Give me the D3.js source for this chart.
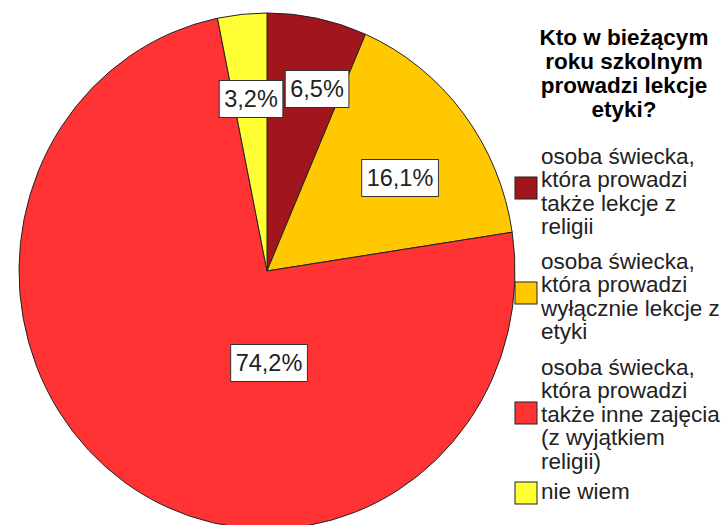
<!DOCTYPE html>
<html>
<head>
<meta charset="utf-8">
<script src="https://cdn.jsdelivr.net/npm/d3@7"></script>
<style>
  html, body { margin: 0; padding: 0; background: #fff; }
  svg { display: block; }
</style>
</head>
<body>
<svg id="chart" width="728" height="525"></svg>
<script>
// ---- data ----
const categories = [
  ["osoba świecka,", "która prowadzi", "także lekcje z", "religii"],
  ["osoba świecka,", "która prowadzi", "wyłącznie lekcje z", "etyki"],
  ["osoba świecka,", "która prowadzi", "także inne zajęcia", "(z wyjątkiem", "religii)"],
  ["nie wiem"]
];
const values = [6.5, 16.1, 74.2, 3.2];
const valueLabels = ["6,5%", "16,1%", "74,2%", "3,2%"];
const titleLines = ["Kto w bieżącym", "roku szkolnym", "prowadzi lekcje", "etyki?"];
const colors = ["#a0161c", "#ffc800", "#ff3333", "#ffff33"];

// ---- layout ----
const W = 728, H = 525;
const cx = 267, cy = 271, rx = 248, ry = 258;
const labelPos = [[317, 89], [400, 178], [269, 363], [251, 99]];
const legendX = 515, legendTextX = 541, swatch = 22;
const lineH = 23.4, titleLineH = 24;
const itemFirstBaseline = [164, 269, 375, 499];
const swatchTop = [177, 282, 402, 482];
const FONT = "'Liberation Sans', Arial, sans-serif";

const svg = d3.select("#chart");

// pie
const pie = d3.pie().sort(null).value(d => d);
const arcs = pie(values);
const arc = d3.arc().innerRadius(0).outerRadius(rx);
const g = svg.append("g").attr("transform", `translate(${cx},${cy}) scale(1,${ry / rx})`);
g.selectAll("path").data(arcs).join("path")
  .attr("d", arc)
  .attr("fill", (d, i) => colors[i])
  .attr("stroke", "#222")
  .attr("stroke-width", 1)
  .attr("stroke-linejoin", "round")
  .attr("vector-effect", "non-scaling-stroke");

// value labels
const lab = svg.append("g").selectAll("g").data(arcs).join("g")
  .attr("transform", (d, i) => `translate(${labelPos[i][0]},${labelPos[i][1]})`);
lab.append("text")
  .attr("text-anchor", "middle")
  .attr("dy", "0.36em")
  .attr("font-family", FONT)
  .attr("font-size", 23.5)
  .attr("fill", "#222")
  .text((d, i) => valueLabels[i]);
lab.each(function () {
  const t = d3.select(this).select("text");
  const b = t.node().getBBox();
  d3.select(this).insert("rect", "text")
    .attr("x", b.x - 5).attr("y", -18.5)
    .attr("width", b.width + 10).attr("height", 37)
    .attr("fill", "#fff").attr("stroke", "#333").attr("stroke-width", 1);
});

// legend title
svg.append("g").selectAll("text").data(titleLines).join("text")
  .attr("x", 624)
  .attr("y", (d, i) => 45 + i * titleLineH)
  .attr("text-anchor", "middle")
  .attr("font-family", FONT)
  .attr("font-weight", "bold")
  .attr("font-size", 22.5)
  .attr("fill", "#000")
  .text(d => d);

// legend items
const items = svg.append("g").selectAll("g").data(categories).join("g");
items.append("rect")
  .attr("x", legendX).attr("y", (d, i) => swatchTop[i])
  .attr("width", swatch).attr("height", swatch)
  .attr("fill", (d, i) => colors[i])
  .attr("stroke", "#222").attr("stroke-width", 1);
items.append("text")
  .attr("font-family", FONT)
  .attr("font-size", 22.5)
  .attr("fill", "#222")
  .attr("y", (d, i) => itemFirstBaseline[i])
  .selectAll("tspan").data(d => d).join("tspan")
  .attr("x", legendTextX)
  .attr("dy", (d, j) => j === 0 ? 0 : lineH)
  .text(d => d);
</script>
</body>
</html>
